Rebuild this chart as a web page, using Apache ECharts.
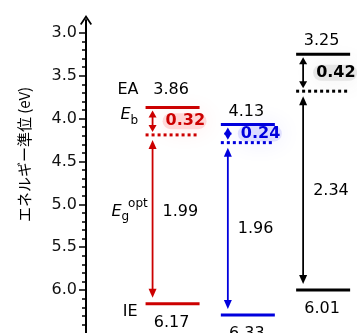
<!DOCTYPE html>
<html><head><meta charset="utf-8">
<script src="https://cdn.jsdelivr.net/npm/echarts@6/dist/echarts.min.js"></script>
<style>html,body{margin:0;padding:0;background:#fff}#c{width:357px;height:333px}</style>
</head><body><div id="c"></div>
<script>
// ---- data (energies in eV) ----
const columns = [0, 1, 2];
const eaLevel  = [3.87, 4.07, 3.25];   // EA level as drawn
const optLevel = [4.19, 4.28, 3.68];   // dotted optical level as drawn
const ieLevel  = [6.16, 6.29, 6.00];   // IE level as drawn
const eaText = ['3.86', '4.13', '3.25'];
const ebText = ['0.32', '0.24', '0.42'];
const egText = ['1.99', '1.96', '2.34'];
const ieText = ['6.17', '6.33', '6.01'];
const majorTicks = [3.0, 3.5, 4.0, 4.5, 5.0, 5.5, 6.0];
const axisName = 'エネルギー準位 (eV)';

// ---- styles ----
const colors = ['#cc0000', '#0000dd', '#000000'];
const glow = ['rgba(255,0,0,', 'rgba(40,40,255,', 'rgba(90,90,90,'];
const FONT = '"DejaVu Sans", sans-serif';
const minorTicks = [];
for (let k = 30; k <= 65; k++) { if (k % 5 !== 0) minorTicks.push(-k / 10); }

function head(x, tipY, dir, w, len, color) {
  return { type: 'polygon', shape: { points: [[x, tipY], [x - w / 2, tipY - dir * len], [x + w / 2, tipY - dir * len]] },
           style: { fill: color } };
}
function txt(x, y, text, opts) {
  return { type: 'text', style: Object.assign({ x: x, y: y, text: text, fill: '#000',
    font: '16px ' + FONT, align: 'center', verticalAlign: 'middle' }, opts || {}) };
}

function renderItem(params, api) {
  const i = params.dataIndex;
  const x = api.value(0);
  const col = colors[i];
  const pEA = api.coord([x, -eaLevel[i]]);
  const pOpt = api.coord([x, -optLevel[i]]);
  const pIE = api.coord([x, -ieLevel[i]]);
  const cx = pEA[0], yEA = pEA[1], yOpt = pOpt[1], yIE = pIE[1];
  const hw = 27, ax = cx - 20;
  const ch = [];
  const midEb = (yEA + yOpt) / 2;
  // soft glow behind Eb value
  ch.push({ type: 'rect', shape: { x: cx - 10, y: midEb - 8, width: 44, height: 16, r: 8 },
    style: { fill: glow[i] + '0.13)', shadowBlur: 24, shadowColor: glow[i] + '0.7)' } });
  // levels
  ch.push({ type: 'line', shape: { x1: cx - hw, y1: yEA, x2: cx + hw, y2: yEA }, style: { stroke: col, lineWidth: 3 } });
  ch.push({ type: 'line', shape: { x1: cx - hw, y1: yIE, x2: cx + hw, y2: yIE }, style: { stroke: col, lineWidth: 3 } });
  ch.push({ type: 'line', shape: { x1: cx - hw, y1: yOpt, x2: cx + hw, y2: yOpt },
    style: { stroke: col, lineWidth: 3, lineDash: [3, 3] } });
  // small double arrow (Eb)
  const t1 = yEA + 3, t2 = yOpt - 3;
  ch.push({ type: 'line', shape: { x1: ax, y1: t1 + 3, x2: ax, y2: t2 - 3 }, style: { stroke: col, lineWidth: 1.8 } });
  ch.push(head(ax, t1, -1, 8, 7, col));
  ch.push(head(ax, t2, 1, 8, 7, col));
  // long double arrow (Eg)
  const b1 = yOpt + 5, b2 = yIE - 6;
  ch.push({ type: 'line', shape: { x1: ax, y1: b1 + 4, x2: ax, y2: b2 - 4 }, style: { stroke: col, lineWidth: 1.8 } });
  ch.push(head(ax, b1, -1, 8, 9, col));
  ch.push(head(ax, b2, 1, 8, 9, col));
  // value texts
  ch.push(txt(cx - 1.5, yEA - 13 - (i === 0 ? 5 : 0), eaText[i]));
  ch.push(txt(cx - 7, midEb, ebText[i], { fill: col, font: 'bold 16px ' + FONT, align: 'left' }));
  const midEg = (yOpt + yIE) / 2 - (i === 0 ? 8 : 0);
  ch.push(txt(cx - 10, midEg, egText[i], { align: 'left' }));
  ch.push(txt(cx - 1, yIE + 19, ieText[i]));
  // row labels on first column
  if (i === 0) {
    ch.push(txt(cx - 34, yEA - 18, 'EA', { align: 'right' }));
    ch.push(txt(cx - 42, midEb - 6, 'E', { align: 'right', font: 'italic 16px ' + FONT }));
    ch.push(txt(cx - 42, midEb, 'b', { align: 'left', font: '12px ' + FONT }));
    ch.push(txt(cx - 51, midEg, 'E', { align: 'right', font: 'italic 16px ' + FONT }));
    ch.push(txt(cx - 51, midEg + 5, 'g', { align: 'left', font: '12px ' + FONT }));
    ch.push(txt(cx - 44.5, midEg - 8, 'opt', { align: 'left', font: '12px ' + FONT }));
    ch.push(txt(cx - 35, yIE + 8, 'IE', { align: 'right' }));
  }
  return { type: 'group', children: ch };
}

const chart = echarts.init(document.getElementById('c'), null, { renderer: 'canvas' });
const yBase = { type: 'value', min: -6.5, max: -2.85, position: 'left', splitLine: { show: false } };
chart.setOption({
  animation: false,
  grid: { left: 86, right: 0, top: 20, bottom: 0, containLabel: false },
  xAxis: { type: 'value', min: -1.15, max: 2.45, show: false },
  yAxis: [
    Object.assign({}, yBase, {
      name: axisName, nameLocation: 'middle', nameGap: 54, nameRotate: 90,
      nameTextStyle: { fontFamily: '"Noto Sans CJK JP", sans-serif', fontSize: 15, color: '#000', padding: [0, 0, 0, 44] },
      axisLine: { show: true, onZero: false, symbol: ['none', 'path://M0,9 L6,0 L12,9 L10.6,10 L6,3.2 L1.4,10 Z'], symbolSize: [12, 10],
        lineStyle: { color: '#000', width: 2 } },
      axisTick: { show: true, inside: false, length: 4, customValues: minorTicks, lineStyle: { color: '#000', width: 1.5 } },
      axisLabel: { show: false }
    }),
    Object.assign({}, yBase, {
      axisLine: { show: false, onZero: false },
      axisTick: { show: true, inside: false, length: 7, customValues: majorTicks.map(v => -v), lineStyle: { color: '#000', width: 1.5 } },
      axisLabel: { show: true, margin: 9, customValues: majorTicks.map(v => -v), color: '#111', fontSize: 16, fontFamily: FONT,
        formatter: v => (-v).toFixed(1) }
    })
  ],
  series: [{ type: 'custom', renderItem: renderItem, data: columns.map(c => [c]), clip: false }]
});
</script></body></html>
